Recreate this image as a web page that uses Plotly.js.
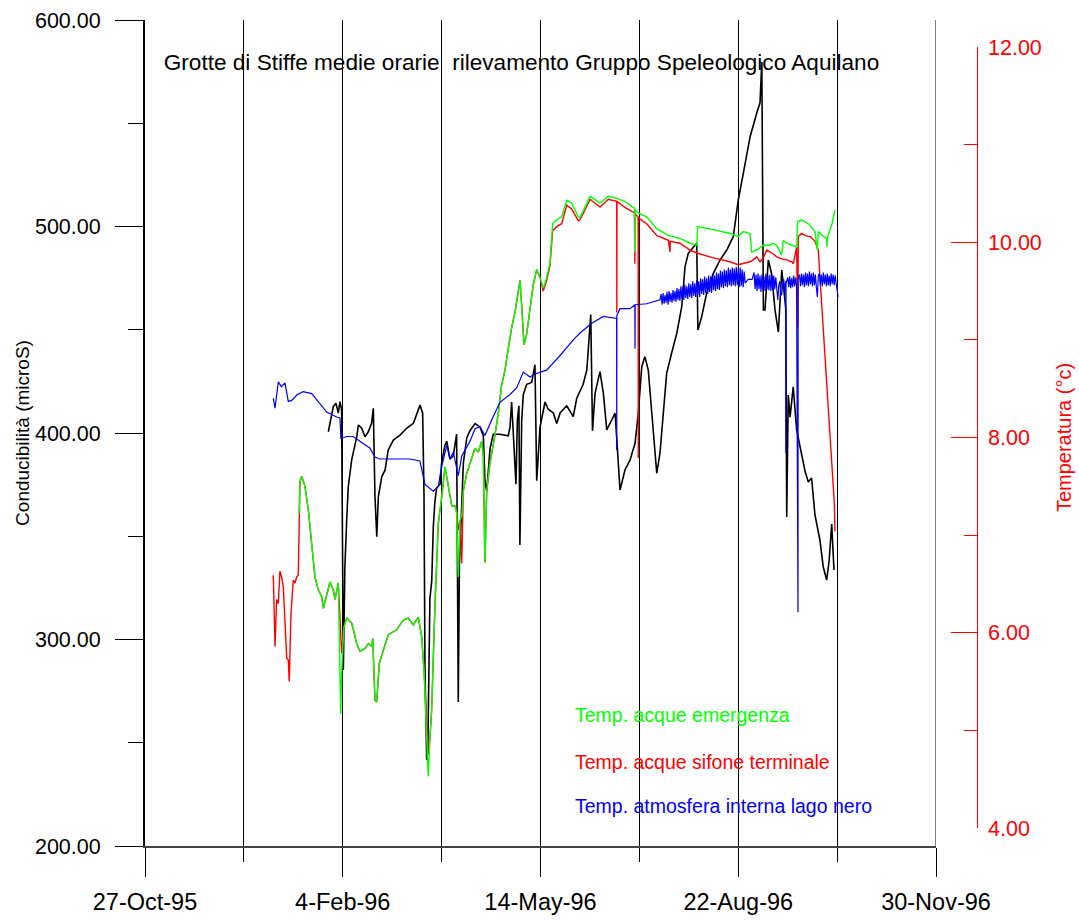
<!DOCTYPE html>
<html>
<head>
<meta charset="utf-8">
<script src="https://cdn.plot.ly/plotly-3.0.1.min.js"></script>
<style>html,body{margin:0;padding:0;background:#fff}</style>
</head>
<body>
<div id="chart" style="width:1079px;height:920px"></div>
<script>
// ---- Conducibilità (microS) ----
const condDates = [
'1996-01-27 17:00','1996-01-28 13:00','1996-01-30 05:00','1996-01-31 14:00','1996-02-01 18:00','1996-02-02 14:00','1996-02-03 10:00','1996-02-04 07:00','1996-02-05 02:00','1996-02-06 00:00',
'1996-02-06 19:00','1996-02-08 12:00','1996-02-11 02:00','1996-02-11 22:00','1996-02-13 14:00','1996-02-15 06:00','1996-02-16 22:00','1996-02-18 14:00','1996-02-19 11:00','1996-02-20 07:00',
'1996-02-21 05:00','1996-02-22 00:00','1996-02-23 17:00','1996-02-25 10:00','1996-02-27 00:00','1996-02-29 14:00','1996-03-03 23:00','1996-03-07 07:00','1996-03-10 17:00','1996-03-13 05:00',
'1996-03-14 02:00','1996-03-15 10:00','1996-03-16 02:00','1996-03-16 14:00','1996-03-17 11:00','1996-03-18 02:00','1996-03-19 02:00','1996-03-20 00:00','1996-03-20 19:00','1996-03-21 14:00',
'1996-03-22 12:00','1996-03-24 05:00','1996-03-25 00:00','1996-03-26 17:00','1996-03-27 14:00','1996-03-29 05:00','1996-03-30 22:00','1996-04-01 14:00','1996-04-02 00:00','1996-04-02 10:00',
'1996-04-03 00:00','1996-04-05 00:00','1996-04-06 17:00','1996-04-08 07:00','1996-04-10 22:00','1996-04-13 10:00','1996-04-15 02:00','1996-04-15 22:00','1996-04-16 19:00','1996-04-18 12:00',
'1996-04-20 02:00','1996-04-23 12:00','1996-04-27 17:00','1996-04-28 14:00','1996-04-29 10:00','1996-04-30 18:00','1996-05-01 14:00','1996-05-02 07:00','1996-05-03 02:00','1996-05-03 14:00',
'1996-05-04 12:00','1996-05-05 07:00','1996-05-07 00:00','1996-05-09 13:00','1996-05-11 05:00','1996-05-12 02:00','1996-05-13 18:00','1996-05-16 07:00','1996-05-17 22:00','1996-05-20 12:00',
'1996-05-22 05:00','1996-05-23 22:00','1996-05-27 06:00','1996-05-30 14:00','1996-06-01 07:00','1996-06-04 14:00','1996-06-06 10:00','1996-06-08 10:00','1996-06-09 07:00','1996-06-10 14:00',
'1996-06-13 02:00','1996-06-14 19:00','1996-06-16 12:00','1996-06-19 00:00','1996-06-20 17:00','1996-06-21 12:00','1996-06-23 05:00','1996-06-25 17:00','1996-06-28 07:00','1996-06-30 19:00',
'1996-07-02 11:00','1996-07-04 05:00','1996-07-05 19:00','1996-07-07 12:00','1996-07-09 05:00','1996-07-11 19:00','1996-07-13 10:00','1996-07-16 19:00','1996-07-19 07:00','1996-07-21 22:00',
'1996-07-24 10:00','1996-07-26 02:00','1996-07-27 17:00','1996-07-30 07:00','1996-08-01 00:00','1996-08-01 14:00','1996-08-03 12:00','1996-08-06 00:00','1996-08-09 10:00','1996-08-12 19:00',
'1996-08-16 05:00','1996-08-19 12:00','1996-08-22 00:00','1996-08-24 14:00','1996-08-28 00:00','1996-08-31 07:00','1996-09-02 00:00','1996-09-02 22:00','1996-09-03 17:00','1996-09-04 12:00',
'1996-09-06 05:00','1996-09-07 22:00','1996-09-09 14:00','1996-09-11 07:00','1996-09-13 00:00','1996-09-14 02:00','1996-09-15 02:00','1996-09-15 12:00','1996-09-16 07:00','1996-09-17 05:00',
'1996-09-18 19:00','1996-09-20 13:00','1996-09-23 02:00','1996-09-24 18:00','1996-09-26 10:00','1996-09-28 02:00','1996-09-29 19:00','1996-10-02 07:00','1996-10-04 00:00','1996-10-05 17:00',
'1996-10-07 00:00','1996-10-08 06:00','1996-10-09 10:00'
];
const condValues = [
400.6,404.7,412.8,414.4,409.6,415.2,411.2,285.2,335.3,357.9,
374.0,386.9,398.2,403.9,402.3,398.2,400.6,404.7,412.0,369.2,
349.8,369.2,378.8,382.1,391.8,396.6,399.0,402.3,404.7,411.2,
413.6,409.6,370.8,285.2,241.6,251.3,319.8,328.5,354.5,366.6,
373.4,375.2,385.5,394.2,396.0,387.3,389.0,399.4,337.1,269.7,
337.1,385.5,397.6,401.1,404.6,402.9,398.6,376.9,371.7,392.5,
399.4,399.4,398.6,402.9,415.0,389.0,375.2,406.3,413.2,345.8,
406.3,418.4,423.6,424.5,433.1,376.9,402.9,415.0,411.5,409.7,
404.6,409.7,413.2,408.0,416.7,423.6,430.5,457.4,401.1,419.2,
429.7,419.2,401.5,406.3,409.6,398.2,372.4,382.1,386.9,395.0,
409.6,432.1,437.0,430.5,411.2,380.5,390.2,428.9,438.6,448.3,
461.2,480.5,487.0,490.2,491.9,449.9,456.3,467.6,477.3,483.8,
488.6,495.1,512.8,525.8,543.5,554.7,559.9,579.7,459.6,459.6,
483.8,476.9,459.6,448.9,478.9,469.3,459.6,359.3,418.4,407.7,
422.3,401.5,389.4,381.6,376.3,378.2,360.3,348.2,335.1,328.8,
338.5,355.9,333.7
];

// ---- Temp. acque sifone terminale (°C) ----
const sifoneDates = [
'1995-12-30 21:00','1995-12-31 18:00','1996-01-01 14:00','1996-01-02 10:00','1996-01-03 06:00','1996-01-04 03:00','1996-01-04 23:00','1996-01-05 19:00','1996-01-06 16:00','1996-01-07 11:00',
'1996-01-07 23:00','1996-01-08 20:00','1996-01-10 00:00','1996-01-10 20:00','1996-01-11 17:00','1996-01-12 12:00','1996-01-12 21:00','1996-01-13 09:00','1996-01-14 06:00','1996-01-15 22:00',
'1996-01-17 14:00','1996-01-19 07:00','1996-01-20 23:00','1996-01-22 15:00','1996-01-24 09:00','1996-01-25 04:00','1996-01-26 21:00','1996-01-28 13:00','1996-01-30 05:00','1996-01-31 02:00',
'1996-02-01 18:00','1996-02-02 23:00','1996-02-03 11:00','1996-02-04 12:00','1996-02-06 00:00','1996-02-08 13:00','1996-02-11 01:00','1996-02-12 17:00','1996-02-15 06:00','1996-02-16 22:00',
'1996-02-18 15:00','1996-02-19 04:00','1996-02-20 07:00','1996-02-21 04:00','1996-02-22 12:00','1996-02-24 12:00','1996-02-27 01:00','1996-03-02 07:00','1996-03-05 15:00','1996-03-08 04:00',
'1996-03-10 16:00','1996-03-13 05:00','1996-03-14 22:00','1996-03-16 02:00','1996-03-17 11:00','1996-03-18 06:00','1996-03-19 03:00','1996-03-19 23:00','1996-03-21 16:00','1996-03-23 08:00',
'1996-03-25 01:00','1996-03-26 17:00','1996-03-27 14:00','1996-03-29 06:00','1996-03-30 02:00','1996-03-31 18:00','1996-04-01 15:00','1996-04-02 10:00','1996-04-03 07:00','1996-04-04 04:00',
'1996-04-04 23:00','1996-04-06 16:00','1996-04-08 08:00','1996-04-10 21:00','1996-04-12 13:00','1996-04-14 06:00','1996-04-15 02:00','1996-04-15 22:00','1996-04-16 19:00','1996-04-18 11:00',
'1996-04-21 00:00','1996-04-22 16:00','1996-04-24 09:00','1996-04-26 01:00','1996-04-27 17:00','1996-04-29 11:00','1996-05-01 02:00','1996-05-02 18:00','1996-05-03 15:00','1996-05-04 12:00',
'1996-05-05 16:00','1996-05-07 00:00','1996-05-08 17:00','1996-05-10 09:00','1996-05-12 02:00','1996-05-13 18:00','1996-05-15 10:00','1996-05-17 03:00','1996-05-18 19:00','1996-05-20 04:00',
'1996-05-22 05:00','1996-05-24 17:00','1996-05-27 06:00','1996-05-29 19:00','1996-06-02 03:00','1996-06-02 23:00','1996-06-05 12:00','1996-06-08 01:00','1996-06-13 02:00','1996-06-17 07:00',
'1996-06-21 13:00','1996-06-21 14:00','1996-06-21 16:00','1996-06-25 12:00','1996-06-30 12:00','1996-06-30 17:00','1996-06-30 19:00','1996-07-02 09:00','1996-07-02 11:00','1996-07-02 13:00',
'1996-07-06 17:00','1996-07-11 18:00','1996-07-17 15:00','1996-07-18 12:00','1996-07-18 14:00','1996-07-23 13:00','1996-07-28 14:00','1996-08-01 00:00','1996-08-09 09:00','1996-08-17 20:00',
'1996-08-22 01:00','1996-08-24 13:00','1996-08-27 23:00','1996-08-29 14:00','1996-08-31 08:00','1996-09-02 00:00','1996-09-03 16:00','1996-09-05 09:00','1996-09-07 01:00','1996-09-08 17:00',
'1996-09-10 11:00','1996-09-12 23:00','1996-09-15 12:00','1996-09-18 01:00','1996-09-18 20:00','1996-09-20 13:00','1996-09-21 01:00','1996-09-21 09:00','1996-09-23 02:00','1996-09-24 18:00',
'1996-09-26 10:00','1996-09-27 07:00','1996-09-29 19:00','1996-10-01 00:00','1996-10-01 11:00','1996-10-09 14:00','1996-10-09 22:00'
];
const sifoneTemps = [
6.59,5.86,6.34,6.30,6.63,6.57,6.47,6.10,5.74,5.72,
5.50,6.20,6.54,6.51,6.57,6.59,7.22,7.55,7.60,7.50,
7.26,6.92,6.57,6.44,6.37,6.25,6.40,6.52,6.44,6.34,
6.51,6.00,5.79,6.05,6.15,6.10,5.89,5.81,5.84,5.89,
5.86,5.94,5.31,5.29,5.69,5.82,5.98,6.03,6.13,6.15,
6.08,6.16,5.96,5.62,5.00,4.75,4.94,5.21,6.30,7.12,
7.39,7.70,7.60,7.37,7.30,7.30,7.23,7.05,7.15,6.71,
7.45,7.63,7.74,7.89,7.85,7.96,7.81,6.72,7.45,7.74,
8.03,8.25,8.54,8.69,8.91,9.13,9.28,9.50,9.61,9.35,
8.95,9.06,9.35,9.57,9.72,9.64,9.50,9.61,9.76,10.12,
10.16,10.19,10.38,10.34,10.22,10.23,10.33,10.44,10.36,10.44,
10.42,9.28,10.42,10.36,10.30,9.78,10.29,10.26,7.79,10.25,
10.19,10.07,10.02,9.90,10.01,9.99,9.92,9.89,9.84,9.80,
9.77,9.78,9.80,9.82,9.85,9.80,9.84,9.92,9.90,9.88,
9.85,9.83,9.82,9.80,9.78,9.95,9.13,10.06,10.09,10.07,
10.06,10.06,10.01,9.94,9.92,7.33,7.04
];

// ---- Temp. acque emergenza (°C) ----
const emergDates = [
'1996-01-12 21:00','1996-01-13 09:00','1996-01-14 06:00','1996-01-15 22:00','1996-01-17 14:00','1996-01-19 07:00','1996-01-20 23:00','1996-01-22 15:00','1996-01-24 09:00','1996-01-25 04:00',
'1996-01-26 21:00','1996-01-28 13:00','1996-01-30 05:00','1996-01-31 02:00','1996-02-01 18:00','1996-02-02 23:00','1996-02-03 11:00','1996-02-04 12:00','1996-02-06 00:00','1996-02-08 13:00',
'1996-02-11 01:00','1996-02-12 17:00','1996-02-15 06:00','1996-02-16 22:00','1996-02-18 15:00','1996-02-19 04:00','1996-02-20 07:00','1996-02-21 04:00','1996-02-22 12:00','1996-02-24 12:00',
'1996-02-27 01:00','1996-03-02 07:00','1996-03-05 15:00','1996-03-08 04:00','1996-03-10 16:00','1996-03-13 05:00','1996-03-14 22:00','1996-03-16 02:00','1996-03-17 11:00','1996-03-18 06:00',
'1996-03-19 03:00','1996-03-19 23:00','1996-03-21 16:00','1996-03-23 08:00','1996-03-25 01:00','1996-03-26 17:00','1996-03-27 14:00','1996-03-29 06:00','1996-03-30 02:00','1996-03-31 18:00',
'1996-04-01 15:00','1996-04-02 10:00','1996-04-03 07:00','1996-04-04 04:00','1996-04-04 23:00','1996-04-06 16:00','1996-04-08 08:00','1996-04-10 21:00','1996-04-12 13:00','1996-04-14 06:00',
'1996-04-15 02:00','1996-04-15 22:00','1996-04-16 19:00','1996-04-18 11:00','1996-04-21 00:00','1996-04-22 16:00','1996-04-24 09:00','1996-04-26 01:00','1996-04-27 17:00','1996-04-29 11:00',
'1996-05-01 02:00','1996-05-02 18:00','1996-05-03 15:00','1996-05-04 12:00','1996-05-05 16:00','1996-05-07 00:00','1996-05-08 17:00','1996-05-10 09:00','1996-05-12 02:00','1996-05-13 18:00',
'1996-05-15 10:00','1996-05-17 03:00','1996-05-18 19:00','1996-05-20 04:00','1996-05-22 05:00','1996-05-24 17:00','1996-05-27 06:00','1996-05-29 19:00','1996-06-02 03:00','1996-06-02 23:00',
'1996-06-05 12:00','1996-06-08 01:00','1996-06-13 02:00','1996-06-17 07:00','1996-06-21 13:00','1996-06-25 12:00','1996-06-30 12:00','1996-06-30 17:00','1996-06-30 19:00','1996-07-02 09:00',
'1996-07-06 17:00','1996-07-11 18:00','1996-07-17 15:00','1996-07-23 13:00','1996-07-28 14:00','1996-08-01 00:00','1996-08-01 12:00','1996-08-09 09:00','1996-08-17 20:00','1996-08-22 01:00',
'1996-08-24 13:00','1996-08-27 23:00','1996-08-28 19:00','1996-08-31 08:00','1996-09-02 00:00','1996-09-03 16:00','1996-09-05 09:00','1996-09-07 01:00','1996-09-08 17:00','1996-09-10 11:00',
'1996-09-12 23:00','1996-09-13 19:00','1996-09-15 12:00','1996-09-18 01:00','1996-09-20 13:00','1996-09-21 01:00','1996-09-23 02:00','1996-09-24 18:00','1996-09-26 10:00','1996-09-27 07:00',
'1996-09-29 19:00','1996-10-01 00:00','1996-10-01 11:00','1996-10-04 00:00','1996-10-05 17:00','1996-10-05 20:00','1996-10-06 06:00','1996-10-08 10:00','1996-10-09 22:00'
];
const emergTemps = [
7.22,7.55,7.60,7.50,7.26,6.92,6.57,6.44,6.37,6.25,
6.40,6.52,6.44,6.34,6.51,5.17,5.60,6.05,6.15,6.10,
5.89,5.81,5.84,5.89,5.86,5.94,5.31,5.29,5.69,5.82,
5.98,6.03,6.13,6.15,6.08,6.16,5.96,5.62,5.00,4.53,
4.94,5.21,6.30,7.12,7.39,7.70,7.60,7.37,7.30,7.30,
7.23,6.57,7.15,7.20,7.45,7.63,7.74,7.89,7.85,7.96,
7.81,6.72,7.45,7.74,8.03,8.25,8.54,8.69,8.91,9.13,
9.28,9.50,9.61,9.35,8.95,9.06,9.35,9.57,9.72,9.64,
9.53,9.64,9.79,10.19,10.23,10.26,10.43,10.40,10.26,10.25,
10.36,10.47,10.40,10.47,10.45,10.42,10.35,9.90,10.33,10.30,
10.26,10.14,10.07,10.04,9.99,9.97,10.16,10.13,10.09,10.06,
10.11,10.09,9.90,9.92,9.95,9.97,9.97,9.97,9.99,9.97,
9.87,10.02,9.99,9.97,9.95,10.21,10.23,10.21,10.19,10.17,
10.11,9.92,10.11,10.06,10.04,9.95,10.06,10.19,10.33
];

// ---- Temp. atmosfera interna lago nero (°C) ----
const lagoDates = [
'1995-12-30 21:00','1995-12-31 18:00','1996-01-02 10:00','1996-01-04 00:00','1996-01-05 19:00','1996-01-07 11:00','1996-01-09 05:00','1996-01-12 00:00','1996-01-15 00:00','1996-01-19 07:00',
'1996-01-22 12:00','1996-01-26 21:00','1996-01-31 22:00','1996-02-02 14:00','1996-02-03 02:00','1996-02-06 00:00','1996-02-09 05:00','1996-02-12 17:00','1996-02-17 19:00','1996-02-20 07:00',
'1996-02-22 19:00','1996-02-29 10:00','1996-03-09 00:00','1996-03-14 00:00','1996-03-16 14:00','1996-03-20 19:00','1996-03-23 07:00','1996-03-25 00:00','1996-03-27 14:00','1996-03-29 05:00',
'1996-03-30 22:00','1996-04-02 10:00','1996-04-04 05:00','1996-04-08 07:00','1996-04-10 22:00','1996-04-13 10:00','1996-04-15 22:00','1996-04-19 07:00','1996-04-23 12:00','1996-04-28 14:00',
'1996-05-02 00:00','1996-05-05 07:00','1996-05-08 17:00','1996-05-11 05:00','1996-05-17 02:00','1996-05-23 22:00','1996-05-30 14:00','1996-06-03 00:00','1996-06-08 22:00','1996-06-14 19:00',
'1996-06-21 12:00','1996-06-21 13:00','1996-06-21 15:00','1996-06-23 05:00','1996-06-28 07:00','1996-06-30 17:00','1996-06-30 19:00','1996-06-30 21:00','1996-07-06 17:00','1996-07-13 10:00',
'1996-07-14 00:00','1996-07-14 12:00','1996-07-15 00:00','1996-07-15 12:00','1996-07-16 00:00','1996-07-16 12:00','1996-07-17 00:00','1996-07-17 12:00','1996-07-18 00:00','1996-07-18 12:00',
'1996-07-19 00:00','1996-07-19 12:00','1996-07-20 00:00','1996-07-20 12:00','1996-07-21 00:00','1996-07-21 12:00','1996-07-22 00:00','1996-07-22 12:00','1996-07-23 00:00','1996-07-23 12:00',
'1996-07-24 00:00','1996-07-24 12:00','1996-07-25 00:00','1996-07-25 12:00','1996-07-26 00:00','1996-07-26 12:00','1996-07-27 00:00','1996-07-27 12:00','1996-07-28 00:00','1996-07-28 12:00',
'1996-07-29 00:00','1996-07-29 12:00','1996-07-30 00:00','1996-07-30 12:00','1996-07-31 00:00','1996-07-31 12:00','1996-08-01 00:00','1996-08-01 12:00','1996-08-02 00:00','1996-08-02 12:00',
'1996-08-03 00:00','1996-08-03 12:00','1996-08-04 00:00','1996-08-04 12:00','1996-08-05 00:00','1996-08-05 12:00','1996-08-06 00:00','1996-08-06 12:00','1996-08-07 00:00','1996-08-07 12:00',
'1996-08-08 00:00','1996-08-08 12:00','1996-08-09 00:00','1996-08-09 12:00','1996-08-10 00:00','1996-08-10 12:00','1996-08-11 00:00','1996-08-11 12:00','1996-08-12 00:00','1996-08-12 12:00',
'1996-08-13 00:00','1996-08-13 12:00','1996-08-14 00:00','1996-08-14 12:00','1996-08-15 00:00','1996-08-15 12:00','1996-08-16 00:00','1996-08-16 12:00','1996-08-17 00:00','1996-08-17 12:00',
'1996-08-18 00:00','1996-08-18 12:00','1996-08-19 00:00','1996-08-19 12:00','1996-08-20 00:00','1996-08-20 12:00','1996-08-21 00:00','1996-08-21 12:00','1996-08-22 00:00','1996-08-22 12:00',
'1996-08-23 00:00','1996-08-23 12:00','1996-08-24 00:00','1996-08-24 12:00','1996-08-25 00:00','1996-08-25 12:00','1996-08-27 00:00','1996-08-29 00:00',
'1996-08-30 00:00','1996-08-30 12:00','1996-08-31 00:00','1996-08-31 12:00','1996-09-01 00:00','1996-09-01 12:00','1996-09-02 00:00','1996-09-02 12:00','1996-09-03 00:00','1996-09-03 12:00',
'1996-09-04 00:00','1996-09-04 12:00','1996-09-05 00:00','1996-09-05 12:00','1996-09-06 00:00','1996-09-06 12:00','1996-09-07 00:00','1996-09-07 12:00','1996-09-08 00:00','1996-09-08 12:00',
'1996-09-09 00:00','1996-09-09 12:00','1996-09-10 00:00','1996-09-10 12:00','1996-09-11 00:00','1996-09-11 12:00','1996-09-12 00:00','1996-09-12 12:00','1996-09-13 00:00','1996-09-13 12:00',
'1996-09-14 00:00','1996-09-14 12:00','1996-09-15 00:00','1996-09-15 02:00','1996-09-15 04:00',
'1996-09-16 00:00','1996-09-16 12:00','1996-09-17 00:00','1996-09-17 12:00','1996-09-18 00:00','1996-09-18 12:00','1996-09-19 00:00','1996-09-19 12:00','1996-09-20 00:00','1996-09-20 12:00',
'1996-09-21 05:00','1996-09-21 07:00','1996-09-21 18:00',
'1996-09-22 00:00','1996-09-22 12:00','1996-09-23 00:00','1996-09-23 12:00','1996-09-24 00:00','1996-09-24 12:00','1996-09-25 00:00','1996-09-25 12:00','1996-09-26 00:00','1996-09-26 12:00',
'1996-09-27 00:00','1996-09-27 12:00','1996-09-28 00:00','1996-09-28 12:00','1996-09-29 00:00','1996-09-29 12:00','1996-09-30 00:00','1996-09-30 12:00','1996-10-01 00:00','1996-10-01 12:00',
'1996-10-02 00:00','1996-10-02 12:00','1996-10-03 00:00','1996-10-03 12:00','1996-10-04 00:00','1996-10-04 12:00','1996-10-05 00:00','1996-10-05 12:00','1996-10-06 00:00','1996-10-06 12:00',
'1996-10-07 00:00','1996-10-07 12:00','1996-10-08 00:00','1996-10-08 12:00','1996-10-09 00:00','1996-10-09 12:00','1996-10-10 00:00','1996-10-10 12:00','1996-10-11 12:00'
];
const lagoTemps = [
8.40,8.30,8.57,8.52,8.56,8.37,8.38,8.44,8.47,8.45,
8.37,8.26,8.21,8.20,7.99,8.01,8.01,7.96,7.89,7.80,
7.78,7.78,7.78,7.76,7.52,7.45,7.50,7.70,7.92,7.78,
7.85,7.61,7.81,7.96,8.09,8.11,8.02,8.18,8.36,8.44,
8.51,8.67,8.62,8.65,8.69,8.84,9.00,9.07,9.17,9.24,
9.22,7.87,9.25,9.32,9.32,9.36,8.91,9.36,9.37,9.41,
9.47,9.36,9.48,9.37,9.46,9.38,9.49,9.36,9.50,9.39,
9.48,9.38,9.51,9.40,9.50,9.39,9.53,9.41,9.52,9.40,
9.55,9.42,9.54,9.41,9.57,9.43,9.55,9.42,9.58,9.44,
9.57,9.43,9.60,9.45,9.58,9.44,9.61,9.46,9.60,9.44,
9.63,9.47,9.62,9.46,9.65,9.48,9.63,9.47,9.66,9.49,
9.65,9.48,9.68,9.51,9.66,9.50,9.69,9.52,9.68,9.51,
9.71,9.54,9.70,9.53,9.72,9.55,9.71,9.54,9.74,9.56,
9.72,9.55,9.74,9.56,9.73,9.55,9.75,9.56,9.73,9.54,
9.74,9.55,9.72,9.54,9.70,9.58,9.62,9.62,
9.69,9.52,9.67,9.50,9.68,9.52,9.66,9.49,9.67,9.51,
9.65,9.50,9.68,9.52,9.66,9.51,9.67,9.50,9.65,9.51,
9.66,9.52,9.64,9.50,9.41,9.56,9.60,9.48,9.46,9.58,
9.62,9.50,9.60,7.84,9.58,
9.64,9.54,9.65,9.53,9.63,9.54,9.66,9.55,9.64,9.54,
6.21,9.62,9.66,
9.67,9.55,9.68,9.56,9.67,9.54,9.69,9.56,9.68,9.55,
9.70,9.57,9.68,9.55,9.69,9.56,9.67,9.54,9.44,9.66,
9.68,9.56,9.67,9.55,9.69,9.57,9.67,9.55,9.68,9.56,
9.66,9.55,9.68,9.57,9.67,9.56,9.66,9.58,9.44
];

// ---- axis ticks ----
const xTickVals = ['1995-10-27','1996-02-04','1996-05-14','1996-08-22','1996-11-30'];
const xTickText = ['27-Oct-95','4-Feb-96','14-May-96','22-Aug-96','30-Nov-96'];
const xMinorVals = ['1995-12-16','1996-03-25','1996-07-03','1996-10-11'];
const legendLabels = ['Temp. acque emergenza','Temp. acque sifone terminale','Temp. atmosfera interna lago nero'];

const FONT = 'Liberation Sans, Arial, sans-serif';

const traces = [
  {x: condDates, y: condValues, xaxis:'x', yaxis:'y', mode:'lines', line:{color:'#000000', width:1.6}, name:'Conducibilità'},
  {x: sifoneDates, y: sifoneTemps, xaxis:'x', yaxis:'y2', mode:'lines', line:{color:'#ff0000', width:1.4}, name:legendLabels[1]},
  {x: emergDates, y: emergTemps, xaxis:'x', yaxis:'y2', mode:'lines', line:{color:'#00ff00', width:1.4}, name:legendLabels[0]},
  {x: lagoDates, y: lagoTemps, xaxis:'x', yaxis:'y2', mode:'lines', line:{color:'#0000ff', width:1.2}, name:legendLabels[2]}
];

const Y2_DOMAIN = [0.02179, 0.96731];
const RIGHT_AXIS_X = 1 + 0.5 / 832;

const layout = {
  width:1079, height:920,
  margin:{l:145, r:102, t:20, b:74},
  paper_bgcolor:'#ffffff', plot_bgcolor:'rgba(0,0,0,0)',
  showlegend:false,
  font:{family:FONT, color:'#000000'},
  title:{text:'Grotte di Stiffe medie orarie\u00a0 rilevamento Gruppo Speleologico Aquilano',
         xref:'paper', yref:'paper', x:0.4525, y:0.949, xanchor:'center', yanchor:'middle',
         font:{family:FONT, size:22.6, color:'#000000'}},
  xaxis:{
    domain:[0, 0.95072], type:'date', range:['1995-10-27','1996-11-30'],
    tickmode:'array', tickvals:xTickVals, ticktext:xTickText,
    ticks:'outside', ticklen:29, tickwidth:1, tickcolor:'#000000',
    ticklabelstandoff:5,
    tickfont:{family:FONT, size:23.5, color:'#000000'},
    showgrid:true, gridcolor:'#000000', gridwidth:1,
    showline:true, linecolor:'#444444', linewidth:2,
    zeroline:false,
    minor:{tickmode:'array', tickvals:xMinorVals, ticks:'outside', ticklen:14, tickcolor:'#000000', tickwidth:1,
           showgrid:true, gridcolor:'#000000', gridwidth:1}
  },
  yaxis:{
    domain:[0,1], range:[200,600], tickmode:'linear', tick0:200, dtick:100, tickformat:'.2f',
    ticks:'outside', ticklen:28, tickwidth:1, tickcolor:'#000000',
    ticklabelstandoff:10,
    tickfont:{family:FONT, size:21.5, color:'#000000'},
    showgrid:false, zeroline:false,
    showline:true, linecolor:'#000000', linewidth:2,
    minor:{dtick:50, ticks:'outside', ticklen:15, tickcolor:'#000000', tickwidth:1, showgrid:false},
    title:{text:'Conducibilità (microS)', standoff:0, font:{family:FONT, size:19, color:'#000000'}}
  },
  yaxis2:{
    domain:Y2_DOMAIN, range:[4,12], anchor:'free', position:1, side:'right',
    tickmode:'linear', tick0:4, dtick:2, tickformat:'.2f',
    ticks:'inside', ticklen:26, tickwidth:1, tickcolor:'#ff0000',
    ticklabelstandoff:10,
    tickfont:{family:FONT, size:21.5, color:'#ff0000'},
    showgrid:false, zeroline:false,
    showline:false,
    minor:{dtick:1, ticks:'inside', ticklen:13, tickcolor:'#ff0000', tickwidth:1, showgrid:false},
    title:{text:'Temperatura (°c)', standoff:16, font:{family:FONT, size:20, color:'#ff0000'}}
  },
  shapes:[
    {type:'line', xref:'x', yref:'paper', x0:xTickVals[4], x1:xTickVals[4], y0:0, y1:1,
     line:{color:'#000000', width:1}},
    {type:'line', xref:'paper', yref:'paper', x0:RIGHT_AXIS_X, x1:RIGHT_AXIS_X, y0:Y2_DOMAIN[0], y1:Y2_DOMAIN[1],
     line:{color:'#ff0000', width:1}}
  ],
  annotations:[
    {xref:'paper', yref:'paper', x:0.5144, y:0.1586, xanchor:'left', yanchor:'middle', showarrow:false,
     text:legendLabels[0], font:{family:FONT, size:19.5, color:'#00ff00'}},
    {xref:'paper', yref:'paper', x:0.5144, y:0.1017, xanchor:'left', yanchor:'middle', showarrow:false,
     text:legendLabels[1], font:{family:FONT, size:19.5, color:'#ff0000'}},
    {xref:'paper', yref:'paper', x:0.5144, y:0.0484, xanchor:'left', yanchor:'middle', showarrow:false,
     text:legendLabels[2], font:{family:FONT, size:19.5, color:'#0000ff'}}
  ]
};

Plotly.newPlot('chart', traces, layout, {staticPlot:true, displayModeBar:false});
</script>
</body>
</html>
